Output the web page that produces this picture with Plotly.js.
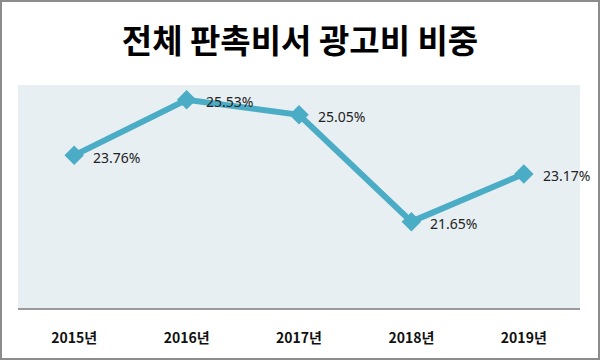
<!DOCTYPE html>
<html><head><meta charset="utf-8">
<script src="https://cdn.plot.ly/plotly-3.0.1.min.js"></script>
<style>html,body{margin:0;padding:0;background:#fff}#chart{width:600px;height:360px;outline:2px solid #8c8c8c;outline-offset:-2px}</style>
</head><body><div id="chart"></div>
<script>
const categories = ['2015년','2016년','2017년','2018년','2019년'];
const shareValues = [23.76, 25.53, 25.05, 21.65, 23.17];
const valueLabels = ['23.76%','25.53%','25.05%','21.65%','23.17%'];
const chartTitle = '전체 판촉비서 광고비 비중';

const trace = {
  x: categories, y: shareValues, type: 'scatter', mode: 'lines+markers',
  line: {color: '#4BACC6', width: 6},
  marker: {symbol: 'diamond', size: 15, color: '#4BACC6'},
  cliponaxis: false, hoverinfo: 'none'
};
const labelAnnotations = categories.map((c, i) => ({
  x: c, y: shareValues[i], xref: 'x', yref: 'y', text: valueLabels[i],
  showarrow: false, xanchor: 'left', yanchor: 'middle', xshift: 17, yshift: -2,
  font: {family: '"Noto Sans", "Open Sans", sans-serif', size: 14, color: '#222'}
}));
const layout = {
  width: 600, height: 360,
  margin: {l: 18, r: 20, t: 85, b: 52},
  paper_bgcolor: 'rgba(0,0,0,0)', plot_bgcolor: '#E8EFF3',
  showlegend: false,
  annotations: labelAnnotations,
  title: {text: '<b>' + chartTitle + '</b>', x: 0.5, xanchor: 'center', y: 0.885, yanchor: 'middle',
          font: {family: '"Noto Sans CJK KR", sans-serif', size: 33, color: '#000'}},
  xaxis: {type: 'category', range: [-0.5, 4.5], showgrid: false, zeroline: false,
          showline: true, linecolor: '#9a9a9a', linewidth: 2, ticks: '', ticklabelstandoff: 16,
          tickfont: {family: '"Noto Sans CJK KR", sans-serif', size: 14, color: '#111', weight: 'bold'}},
  yaxis: {range: [18.9, 26.0], showgrid: false, zeroline: false, showticklabels: false, showline: false, ticks: ''}
};
Plotly.newPlot('chart', [trace], layout, {displayModeBar: false, staticPlot: true});
</script></body></html>
